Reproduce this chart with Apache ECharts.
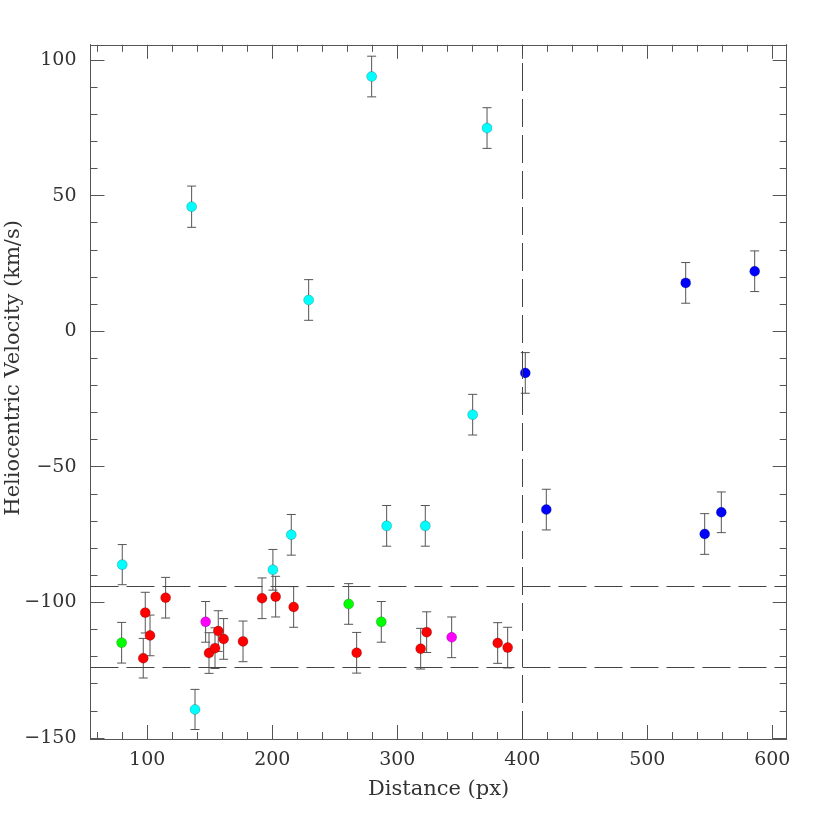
<!DOCTYPE html>
<html>
<head>
<meta charset="utf-8">
<script src="https://cdn.jsdelivr.net/npm/echarts@6/dist/echarts.min.js"></script>
<style>
html,body{margin:0;padding:0;background:#fff;}
#chart{width:830px;height:830px;}
</style>
</head>
<body>
<div id="chart"></div>
<script>
// ---- data (distance px, heliocentric velocity km/s) ----
var cyanPts = [[80.0,-86.1],[135.5,45.9],[138.2,-139.5],[200.5,-88.0],[215.2,-75.1],[229.1,11.5],[279.5,93.9],[291.5,-71.8],[322.4,-71.8],[360.3,-30.8],[371.8,74.9]];
var cyanErr = [7.4,7.6,7.4,7.5,7.5,7.5,7.5,7.5,7.5,7.5,7.5];
var redPts = [[96.8,-120.6],[98.4,-103.8],[102.2,-112.2],[114.7,-98.3],[149.4,-118.7],[154.2,-116.9],[156.8,-110.6],[161.1,-113.5],[176.6,-114.4],[191.8,-98.5],[202.7,-97.9],[217.1,-101.7],[267.5,-118.6],[318.7,-117.1],[323.5,-111.0],[380.3,-115.0],[388.3,-116.7]];
var redErr = [7.3,7.5,7.5,7.5,7.5,7.5,7.5,7.5,7.5,7.5,7.5,7.5,7.5,7.5,7.5,7.5,7.5];
var greenPts = [[79.5,-114.9],[261.1,-100.6],[287.2,-107.2]];
var greenErr = [7.5,7.5,7.5];
var magentaPts = [[146.7,-107.2],[343.5,-112.9]];
var magentaErr = [7.5,7.5];
var bluePts = [[402.4,-15.4],[419.2,-65.8],[530.7,17.8],[545.9,-74.8],[559.2,-66.8],[585.9,22.1]];
var blueErr = [7.5,7.5,7.5,7.5,7.5,7.5];

var hLines = [-94, -124];
var vLines = [400];

var xMajor = [100,200,300,400,500,600];
var xMinor = [60,80,120,140,160,180,220,240,260,280,320,340,360,380,420,440,460,480,520,540,560,580];
var yMajor = [-150,-100,-50,0,50,100];
var yMinor = [-140,-130,-120,-110,-90,-80,-70,-60,-40,-30,-20,-10,10,20,30,40,60,70,80,90];

var xName = 'Distance (px)';
var yName = 'Heliocentric Velocity (km/s)';

// ---- chart ----
var X_MIN = 54.6, X_MAX = 611.5, Y_MIN = -150.4, Y_MAX = 105.6;
var FONT = 'DejaVu Serif';
var AXC = '#555';

function xAx(pos, ticks, len, labels, extra) {
  var a = {
    type: 'value', position: pos, min: X_MIN, max: X_MAX,
    axisLine: {show: true, onZero: false, lineStyle: {color: AXC, width: 1}},
    axisTick: {show: true, inside: true, length: len, customValues: ticks, lineStyle: {color: AXC, width: 1}},
    axisLabel: labels ? {show: true, customValues: ticks, margin: 12, fontFamily: FONT, fontSize: 19, color: '#333'} : {show: false},
    splitLine: {show: false}
  };
  return Object.assign(a, extra || {});
}
function yAx(pos, ticks, len, labels, extra) {
  var a = {
    type: 'value', position: pos, min: Y_MIN, max: Y_MAX,
    axisLine: {show: true, onZero: false, lineStyle: {color: AXC, width: 1}},
    axisTick: {show: true, inside: true, length: len, customValues: ticks, lineStyle: {color: AXC, width: 1}},
    axisLabel: labels ? {show: true, customValues: ticks, margin: 14, fontFamily: FONT, fontSize: 19, color: '#333',
      formatter: function(v){ return String(v).replace('-', '\u2212'); }} : {show: false},
    splitLine: {show: false}
  };
  return Object.assign(a, extra || {});
}

var groups = [
  {pts: cyanPts, err: cyanErr, color: '#00ffff'},
  {pts: redPts, err: redErr, color: '#ff0000'},
  {pts: greenPts, err: greenErr, color: '#00ff00'},
  {pts: magentaPts, err: magentaErr, color: '#ff00ff'},
  {pts: bluePts, err: blueErr, color: '#0000ff'}
];

var errData = [];
groups.forEach(function(g){
  g.pts.forEach(function(p, i){ errData.push([p[0], p[1], g.err[i]]); });
});

var series = [];

// reference lines
var markData = [];
hLines.forEach(function(v){ markData.push({yAxis: v}); });
vLines.forEach(function(v){ markData.push({xAxis: v}); });
series.push({
  type: 'line', data: [], xAxisIndex: 0, yAxisIndex: 0, silent: true,
  markLine: {
    symbol: ['none','none'], silent: true, animation: false,
    label: {show: false},
    lineStyle: {color: '#444', width: 1, type: [28, 8]},
    data: markData
  }
});

// error bars
series.push({
  type: 'custom', xAxisIndex: 0, yAxisIndex: 0, silent: true, animation: false,
  data: errData,
  renderItem: function(params, api){
    var x = api.value(0), y = api.value(1), e = api.value(2);
    var top = api.coord([x, y + e]);
    var bot = api.coord([x, y - e]);
    var hw = 4.5;
    var st = {stroke: '#555', lineWidth: 1, fill: null};
    return {
      type: 'group',
      children: [
        {type: 'line', shape: {x1: top[0], y1: top[1], x2: bot[0], y2: bot[1]}, style: st},
        {type: 'line', shape: {x1: top[0]-hw, y1: top[1], x2: top[0]+hw, y2: top[1]}, style: st},
        {type: 'line', shape: {x1: bot[0]-hw, y1: bot[1], x2: bot[0]+hw, y2: bot[1]}, style: st}
      ]
    };
  }
});

// points
groups.forEach(function(g){
  series.push({
    type: 'scatter', xAxisIndex: 0, yAxisIndex: 0, animation: false,
    symbol: 'circle', symbolSize: 10,
    itemStyle: {color: g.color, opacity: 1, borderColor: 'rgba(0,0,0,0.35)', borderWidth: 0.6},
    data: g.pts
  });
});

var chart = echarts.init(document.getElementById('chart'), null, {renderer: 'canvas'});
chart.setOption({
  backgroundColor: '#ffffff',
  animation: false,
  grid: {left: 90.5, right: 43.3, top: 44.8, bottom: 91, containLabel: false, outerBoundsMode: 'none'},
  xAxis: [
    xAx('bottom', xMajor, 14, true, {name: xName, nameLocation: 'middle', nameGap: 40, nameMoveOverlap: false,
      nameTextStyle: {fontFamily: FONT, fontSize: 21, color: '#333'}}),
    xAx('bottom', xMinor, 7, false),
    xAx('top', xMajor, 14, false),
    xAx('top', xMinor, 7, false)
  ],
  yAxis: [
    yAx('left', yMajor, 14, true, {name: yName, nameLocation: 'middle', nameGap: 66, nameRotate: 90, nameMoveOverlap: false,
      nameTextStyle: {fontFamily: FONT, fontSize: 21, color: '#333', padding: [0, 0, 0, 48]}}),
    yAx('left', yMinor, 7, false),
    yAx('right', yMajor, 14, false),
    yAx('right', yMinor, 7, false)
  ],
  series: series
});
</script>
</body>
</html>
